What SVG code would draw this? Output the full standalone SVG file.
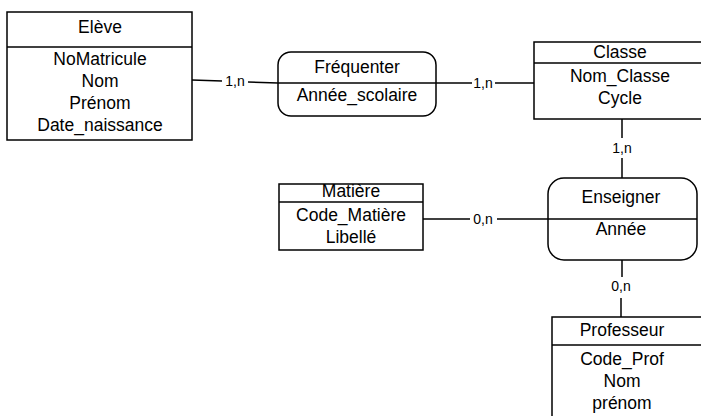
<svg xmlns="http://www.w3.org/2000/svg" width="701" height="416" viewBox="0 0 701 416">
<style>
.box{fill:#fff;stroke:#000;stroke-width:1.5}
.div{stroke:#000;stroke-width:1.5}
.t{font-family:"Liberation Sans",Arial,sans-serif;font-size:17.5px;fill:#000;text-anchor:middle}
.lbl{font-family:"Liberation Sans",Arial,sans-serif;font-size:14px;fill:#000;text-anchor:middle}
.c{stroke:#000;stroke-width:1.5;fill:none}
</style>
<rect width="701" height="416" fill="#fff"/>
<g id="connectors">
<polyline class="c" points="192,80 222,81"/>
<polyline class="c" points="248,82 278,83"/>
<text class="lbl" x="235" y="86">1,n</text>
<line class="c" x1="436" y1="83" x2="472" y2="83"/>
<line class="c" x1="495" y1="83" x2="534" y2="83"/>
<text class="lbl" x="483" y="88">1,n</text>
<line class="c" x1="622" y1="119" x2="622" y2="138"/>
<line class="c" x1="622" y1="158" x2="622" y2="178"/>
<text class="lbl" x="622" y="153">1,n</text>
<line class="c" x1="423" y1="219" x2="470" y2="219"/>
<line class="c" x1="497" y1="219" x2="548" y2="219"/>
<text class="lbl" x="483" y="224">0,n</text>
<line class="c" x1="622" y1="260" x2="622" y2="277"/>
<line class="c" x1="621" y1="298" x2="621" y2="317"/>
<text class="lbl" x="621" y="291">0,n</text>
</g>
<g id="eleve">
<rect class="box" x="7" y="12" width="185" height="128"/>
<line class="div" x1="7" y1="47" x2="192" y2="47"/>
<text class="t" x="100" y="33">Elève</text>
<text class="t" x="100" y="65">NoMatricule</text>
<text class="t" x="100" y="87">Nom</text>
<text class="t" x="100" y="109">Prénom</text>
<text class="t" x="100" y="131">Date_naissance</text>
</g>
<g id="frequenter">
<rect class="box" x="278" y="52" width="158" height="64" rx="13"/>
<line class="div" x1="278" y1="83" x2="436" y2="83"/>
<text class="t" x="357" y="73">Fréquenter</text>
<text class="t" x="357" y="101">Année_scolaire</text>
</g>
<g id="classe">
<rect class="box" x="534" y="42" width="180" height="77"/>
<line class="div" x1="534" y1="63" x2="714" y2="63"/>
<text class="t" x="620" y="58">Classe</text>
<text class="t" x="620" y="82">Nom_Classe</text>
<text class="t" x="620" y="104">Cycle</text>
</g>
<g id="matiere">
<rect class="box" x="279" y="184" width="144" height="66"/>
<line class="div" x1="279" y1="202" x2="423" y2="202"/>
<text class="t" x="351" y="197">Matière</text>
<text class="t" x="351" y="221">Code_Matière</text>
<text class="t" x="351" y="243">Libellé</text>
</g>
<g id="enseigner">
<rect class="box" x="548" y="178" width="149" height="82" rx="16"/>
<line class="div" x1="548" y1="219" x2="697" y2="219"/>
<text class="t" x="621" y="203">Enseigner</text>
<text class="t" x="621" y="235">Année</text>
</g>
<g id="professeur">
<rect class="box" x="552" y="317" width="160" height="110"/>
<line class="div" x1="552" y1="345" x2="712" y2="345"/>
<text class="t" x="622" y="336">Professeur</text>
<text class="t" x="622" y="365">Code_Prof</text>
<text class="t" x="622" y="387">Nom</text>
<text class="t" x="622" y="409">prénom</text>
</g>
</svg>
